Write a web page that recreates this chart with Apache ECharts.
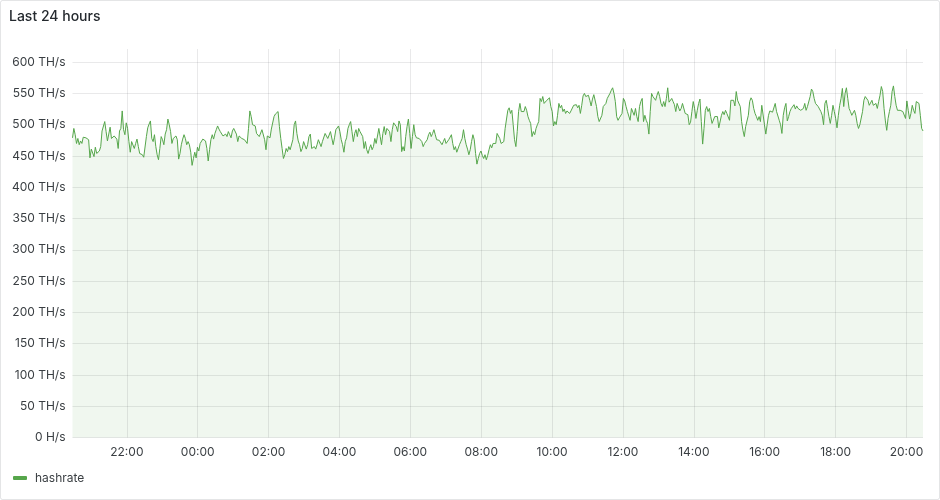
<!DOCTYPE html>
<html>
<head>
<meta charset="utf-8">
<title>Last 24 hours</title>
<script src="https://cdn.jsdelivr.net/npm/echarts@6/dist/echarts.min.js"></script>
<style>
  html, body { margin: 0; padding: 0; background: #fff; }
  #chart { width: 940px; height: 500px; }
</style>
</head>
<body>
<div id="chart"></div>
<script>
// window of the panel (UTC), 24 hours
const startTime = Date.UTC(2024, 4, 1, 20, 28)
const endTime = Date.UTC(2024, 4, 2, 20, 28)

const yTicks = [0, 50, 100, 150, 200, 250, 300, 350, 400, 450, 500, 550, 600]
const xTickHours = ['22:00', '00:00', '02:00', '04:00', '06:00', '08:00', '10:00', '12:00', '14:00', '16:00', '18:00', '20:00']

// hashrate in TH/s left to right
const hashEvening = [479, 494, 484, 470, 478, 468, 474, 470, 480, 477, 479, 482, 476, 447, 461, 458, 449, 464, 454, 453,
  458, 465, 490, 493, 505, 489, 474, 473, 496, 478, 476, 482, 485, 477, 462, 490, 494, 522, 492, 484,
  503, 494, 473, 456, 473, 476, 462, 470, 477, 465, 454, 451, 452, 448, 451, 481, 495, 501, 506, 478,
  473, 484, 465, 452, 444, 462, 481, 476, 468, 485, 492, 509, 500, 489, 470, 478, 477, 482, 476, 445,
  454, 468, 477, 484, 478, 468, 473, 468, 456, 435, 446, 456, 447, 464, 458, 470, 473, 477, 479, 474]
const hashNight = [462, 442, 460, 476, 484, 477, 486, 492, 498, 493, 489, 486, 482, 481, 485, 481, 489, 484, 479, 490,
  494, 492, 485, 473, 482, 479, 478, 477, 476, 473, 470, 494, 522, 513, 500, 497, 498, 486, 489, 481,
  478, 492, 490, 476, 460, 482, 485, 479, 493, 495, 513, 517, 520, 521, 497, 478, 462, 446, 452, 462,
  457, 465, 460, 462, 476, 500, 506, 486, 474, 468, 457, 462, 473, 470, 461, 468, 481, 485, 462, 461,
  465, 461, 468, 476, 479, 465, 473, 473, 486, 484, 478, 479, 489, 492, 468, 479, 492, 495, 498, 489,
  476, 468, 456, 473, 479, 494, 500]
const hashEarly = [505, 489, 473, 486, 492, 481, 494, 489, 492, 481, 462, 473, 460, 454, 462, 468, 460, 465, 478, 470,
  468, 494, 481, 468, 486, 497, 484, 494, 497, 489, 473, 492, 503, 501, 497, 489, 506, 500, 457, 465,
  458, 481, 497, 509, 486, 462, 481, 500, 484, 479, 481, 478, 479, 473, 465, 470, 472, 476, 484, 488,
  481, 486, 492, 484, 476, 477, 475, 476, 468, 473, 478, 470, 469, 476, 473, 484, 470, 460, 465, 456,
  454, 468, 473, 478, 492, 478, 468, 461, 452, 460, 473, 484, 476, 454, 437, 446, 454, 458, 451, 446,
  452, 444, 451, 460, 468, 463, 470]
const hashMorning = [468, 470, 486, 489, 478, 470, 468, 473, 494, 492, 523, 527, 518, 523, 500, 476, 465, 489, 521, 534,
  521, 523, 521, 529, 523, 513, 507, 502, 481, 489, 484, 494, 500, 505, 542, 537, 545, 534, 536, 539,
  542, 543, 529, 521, 498, 505, 500, 515, 534, 527, 531, 521, 525, 518, 522, 520, 518, 522, 523, 531,
  529, 532, 527, 531, 518, 531, 546, 550, 545, 548, 547, 539, 530, 541, 548, 545, 529, 513, 505, 507,
  515, 529, 526, 534, 542, 545, 550, 555, 559, 550, 537, 513, 507, 511, 513, 518, 542, 538, 529, 521,
  522, 507, 526, 523, 515, 526, 513, 505, 529]
const hashAfternoon = [537, 542, 505, 515, 507, 502, 485, 521, 550, 545, 542, 539, 547, 553, 545, 534, 529, 537, 529, 542,
  559, 536, 533, 542, 537, 532, 521, 534, 536, 522, 526, 534, 537, 518, 518, 516, 500, 504, 521, 537,
  526, 510, 523, 534, 541, 505, 469, 494, 523, 529, 521, 526, 513, 502, 500, 513, 516, 513, 495, 497,
  515, 521, 516, 523, 518, 515, 507, 539, 536, 539, 530, 553, 539, 541, 529, 505, 491, 481, 497, 498,
  515, 537, 543, 539, 526, 518, 513, 507, 513, 505, 531, 529, 500, 485, 500, 515, 522, 521, 520, 521,
  534, 521, 523, 507, 500, 486, 515, 527]
const hashLate = [534, 506, 513, 521, 526, 523, 532, 525, 530, 526, 529, 523, 521, 526, 534, 523, 529, 526, 545, 557,
  553, 542, 534, 531, 529, 526, 521, 515, 500, 534, 539, 526, 513, 502, 515, 531, 521, 510, 495, 515,
  531, 542, 558, 529, 550, 559, 542, 526, 521, 515, 514, 523, 515, 502, 494, 500, 497, 521, 539, 545,
  543, 539, 531, 534, 539, 531, 529, 534, 526, 537, 547, 561, 553, 526, 506, 491, 510, 521, 531, 553,
  562, 545, 531, 523, 521, 523, 526, 521, 523, 510, 538, 523, 509, 518, 531, 523, 518, 537, 539, 534,
  515, 494, 490]

const hashrate = [].concat(hashEvening, hashNight, hashEarly, hashMorning, hashAfternoon, hashLate)
const step = (endTime - startTime) / (hashrate.length - 1)
const seriesData = hashrate.map((v, i) => [startTime + i * step, v])

// times of the labelled (2 hourly) ticks, for the vertical grid lines
const xTickTimes = xTickHours.map(s => {
  let t = Date.UTC(2024, 4, 1, parseInt(s.slice(0, 2), 10), 0)
  if (t < startTime) t += 24 * 3600 * 1000
  return t
})

const textColor = 'rgba(36,41,46,0.9)'
const gridColor = 'rgba(36,41,46,0.1)'

const chart = echarts.init(document.getElementById('chart'), null, { renderer: 'canvas' })

const yAxisLabel = (v) => {
  if (v === 0) return '0 H/s'
  if (yTicks.indexOf(v) < 0) return ''
  return v + ' TH/s'
}
const xAxisLabel = (v) => {
  const d = new Date(v)
  const s = String(d.getUTCHours()).padStart(2, '0') + ':' + String(d.getUTCMinutes()).padStart(2, '0')
  return xTickHours.indexOf(s) >= 0 ? s : ''
}

chart.setOption({
  useUTC: true,
  animation: false,
  backgroundColor: '#fff',
  textStyle: { fontFamily: 'Inter' },
  title: {
    text: 'Last 24 hours',
    left: 4,
    top: 5,
    textStyle: { fontSize: 14, fontWeight: 500, color: 'rgb(36,41,46)', fontFamily: 'Inter' }
  },
  graphic: [{
    type: 'rect',
    shape: { x: 0.5, y: 0.5, width: 939, height: 499, r: 2 },
    style: { fill: 'none', stroke: 'rgba(36,41,46,0.12)', lineWidth: 1 },
    silent: true
  }],
  legend: {
    left: 8,
    top: 467,
    icon: 'roundRect',
    itemWidth: 14,
    itemHeight: 4,
    itemGap: 10,
    textStyle: { fontSize: 12, color: textColor, fontFamily: 'Inter', padding: [0, 0, 0, 3] },
    data: ['hashrate']
  },
  grid: {
    left: 72.5,
    right: 17,
    top: 49,
    bottom: 62.5,
    containLabel: false
  },
  xAxis: {
    type: 'time',
    min: startTime,
    max: endTime,
    minInterval: 2 * 3600 * 1000,
    maxInterval: 2 * 3600 * 1000,
    axisLine: { show: false },
    axisTick: { show: false },
    axisLabel: {
      color: textColor,
      fontSize: 12,
      margin: 9,
      showMinLabel: false,
      showMaxLabel: false,
      hideOverlap: false,
      formatter: xAxisLabel
    },
    splitLine: { show: false }
  },
  yAxis: {
    type: 'value',
    min: 0,
    max: 621,
    interval: 50,
    axisLine: { show: false },
    axisTick: { show: false },
    axisLabel: {
      color: textColor,
      fontSize: 12,
      margin: 7,
      showMaxLabel: false,
      formatter: yAxisLabel
    },
    splitLine: { show: true, showMaxLine: false, lineStyle: { color: gridColor, width: 1 } }
  },
  series: [{
    name: 'hashrate',
    type: 'line',
    data: seriesData,
    symbol: 'none',
    showSymbol: false,
    smooth: false,
    color: '#56a64b',
    lineStyle: { color: '#56a64b', width: 1 },
    areaStyle: { color: 'rgba(86,166,75,0.12)' },
    markLine: {
      silent: true,
      symbol: 'none',
      label: { show: false },
      lineStyle: { color: gridColor, type: 'solid', width: 1 },
      emphasis: { disabled: true },
      data: xTickTimes.map(t => ({ xAxis: t }))
    }
  }]
})
</script>
</body>
</html>
